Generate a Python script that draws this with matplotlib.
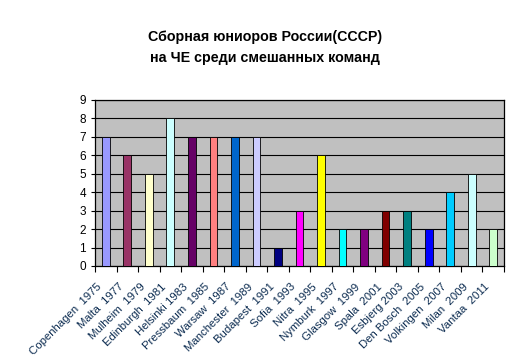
import numpy as np
import matplotlib
matplotlib.use("Agg")
import matplotlib.pyplot as plt
import matplotlib.transforms as mtransforms

plt.rcParams['font.family'] = ['Liberation Sans', 'DejaVu Sans']

cities = ["Copenhagen  1975", "Malta  1977", "Mulheim  1979", "Edinburgh  1981",
          "Helsinki 1983", "Pressbaum  1985", "Warsaw  1987", "Manchester  1989",
          "Budapest  1991", "Sofia  1993", "Nitra  1995", "Nymburk  1997",
          "Glasgow  1999", "Spala  2001", "Esbjerg 2003", "Den Bosch  2005",
          "Volkingen  2007", "Milan  2009", "Vantaa  2011"]
values = [7, 6, 5, 8, 7, 7, 7, 7, 1, 3, 6, 2, 2, 3, 3, 2, 4, 5, 2]
colors = ["#9999FF", "#993366", "#FFFFCC", "#CCFFFF", "#660066", "#FF8080",
          "#0066CC", "#CCCCFF", "#000080", "#FF00FF", "#FFFF00", "#00FFFF",
          "#800080", "#800000", "#008080", "#0000FF", "#00CCFF", "#CCFFFF",
          "#CCFFCC"]

fig = plt.figure(figsize=(5.24, 3.64), dpi=100)
ax = fig.add_axes([95 / 524, 1 - 266 / 364, 409 / 524, 166 / 364])
ax.set_facecolor("#C0C0C0")

x = np.arange(len(values))
ax.bar(x, values, width=0.36, color=colors, edgecolor="black", linewidth=0.6, zorder=3)

ax.set_xlim(-0.5, len(values) - 0.5)
ax.set_ylim(0, 9)
ax.set_yticks(range(10))
ax.yaxis.grid(True, color="black", linewidth=0.8, zorder=1)
ax.set_axisbelow(True)

ax.set_xticks(np.append(x - 0.5, len(values) - 0.5))
ax.set_xticklabels([])
ax.set_xticks(x, minor=True)
ax.set_xticklabels(cities, minor=True, rotation=45, ha="right", rotation_mode="anchor",
                   fontsize=8.2, color="#0B2B50")
ax.tick_params(axis="x", which="minor", length=0, pad=4)
ax.tick_params(axis="x", which="major", length=4, direction="out", width=0.8)
ax.tick_params(axis="y", length=3, direction="out", labelsize=8.5, width=0.8)

# push the rotated labels down-left, like Excel places them
shift = mtransforms.ScaledTranslation(-9 / 100, -10 / 100, fig.dpi_scale_trans)
for t in ax.get_xticklabels(minor=True):
    t.set_transform(t.get_transform() + shift)

for s in ax.spines.values():
    s.set_linewidth(0.9)
    s.set_color("black")

fig.text(0.506, 1 - 37 / 364, "Сборная юниоров России(СССР)", ha="center", va="center",
         fontsize=10.3, fontweight="bold")
fig.text(0.506, 1 - 58 / 364, "на ЧЕ среди смешанных команд", ha="center", va="center",
         fontsize=10.3, fontweight="bold")

fig.savefig("out.png", dpi=100, facecolor="white")
